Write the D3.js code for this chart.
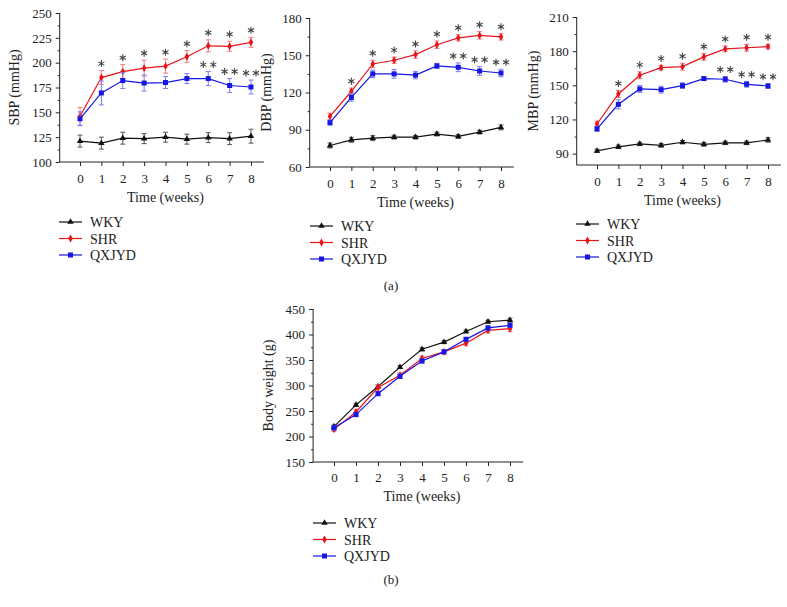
<!DOCTYPE html>
<html>
<head>
<meta charset="utf-8">
<script src="https://cdn.jsdelivr.net/npm/d3@7"></script>
<style>
  body { margin: 0; background: #fff; }
  svg { display: block; }
  text { font-family: "Liberation Serif", "DejaVu Serif", serif; fill: #222; }
</style>
</head>
<body>
<svg id="chart" width="787" height="607"></svg>
<script>
'use strict';

// weeks on the x axis
const weeks = [0, 1, 2, 3, 4, 5, 6, 7, 8];
const groups = ['WKY', 'SHR', 'QXJYD'];

// SBP (mmHg)
const sbpWKY = [121, 119, 124, 123.5, 125, 123, 124.5, 123.5, 126];
const sbpWKYErr = [6, 6, 6, 5, 5, 5, 5, 6, 7];
const sbpSHR = [146, 185, 191, 194.5, 196.5, 206, 217, 216.5, 220.5];
const sbpSHRErr = [9, 7, 7, 8, 7, 6, 6, 5, 5];
const sbpQX = [143.5, 169.5, 182, 179.5, 180, 184, 184, 177, 175.5];
const sbpQXErr = [7, 12, 8, 8, 6, 5, 7, 7, 7];

// DBP (mmHg)
const dbpWKY = [77.3, 81.9, 83.2, 84, 84, 86.5, 84.6, 88.1, 91.9];
const dbpWKYErr = [2, 2, 2, 1.5, 1.5, 1.5, 1.5, 1.5, 2];
const dbpSHR = [100.8, 121, 143, 146, 150.5, 158.5, 164, 166, 164.8];
const dbpSHRErr = [2.5, 2.5, 3, 2.5, 3, 3, 2.5, 3, 2.5];
const dbpQX = [95.7, 116, 135, 135, 134, 141.4, 140.3, 137.3, 135.7];
const dbpQXErr = [2, 3, 3, 3.5, 3, 2, 3.5, 3.5, 3];

// MBP (mmHg)
const mbpWKY = [92.4, 96, 98.5, 97.3, 100, 98.2, 99.4, 99.4, 102];
const mbpWKYErr = [1.5, 1.5, 1.5, 1.5, 1.5, 1.5, 1.5, 1.5, 2];
const mbpSHR = [116, 142.4, 158.8, 165.5, 166.4, 175, 182, 183, 184];
const mbpSHRErr = [2.5, 3, 3, 2, 3, 3, 2.5, 3, 2];
const mbpQX = [111.7, 133.3, 146.8, 146.2, 149.7, 155.9, 155.3, 150.9, 149.4];
const mbpQXErr = [2, 4, 3, 3, 2.5, 1.5, 2.5, 2.5, 2];

// Body weight (g)
const bwWKY = [219.5, 262, 298, 336, 371, 385, 406, 425, 428];
const bwWKYErr = [3, 3, 3, 3, 3, 3, 3, 3, 4];
const bwSHR = [214, 248, 296, 320, 353, 366, 383, 408, 411.5];
const bwSHRErr = [4, 5, 5, 5, 5, 4, 5, 5, 6];
const bwQX = [217, 243, 284, 318, 348, 366, 390.5, 413, 418];
const bwQXErr = [4, 4, 4, 4, 4, 4, 4, 4, 4];

// significance marks (number of asterisks)
const sbpStarSHR = [0, 1, 1, 1, 1, 1, 1, 1, 1];
const sbpStarQX = [0, 0, 0, 0, 0, 0, 2, 2, 2];
const dbpStarSHR = [0, 1, 1, 1, 1, 1, 1, 1, 1];
const dbpStarQX = [0, 0, 0, 0, 0, 0, 2, 2, 2];
const mbpStarSHR = [0, 1, 1, 1, 1, 1, 1, 1, 1];
const mbpStarQX = [0, 0, 0, 0, 0, 0, 2, 2, 2];

const colors = { WKY: '#111', SHR: '#e8141b', QXJYD: '#1616e6' };
const errColors = { WKY: '#555', SHR: '#f07a7e', QXJYD: '#7c7cf0' };

const svg = d3.select('#chart');
const star = d3.symbol(d3.symbolAsterisk, 34);

function drawPanel(o) {
  const x = d3.scaleLinear().domain([0, 8]).range(o.xr);
  const y = d3.scaleLinear().domain(o.yd).range(o.yr);
  const g = svg.append('g');

  // axes
  const xa = g.append('g').attr('transform', `translate(0,${o.yr[0]})`)
    .call(d3.axisBottom(x).tickValues(weeks).tickSize(4).tickPadding(o.xPad).tickFormat(d3.format('d')));
  xa.select('.domain').attr('d', `M${x(-0.95)},0H${x(8.6)}`);
  const ya = g.append('g').attr('transform', `translate(${x(-0.95)},0)`)
    .call(d3.axisLeft(y).tickValues(o.ticks).tickSize(4).tickPadding(4));
  ya.select('.domain').attr('d', `M0,${o.yr[0]}V${o.yr[1]}`);
  g.append('g').attr('transform', `translate(${x(-0.95)},0)`)
    .call(d3.axisLeft(y).tickValues(o.minor).tickSize(2).tickFormat(''))
    .select('.domain').remove();
  g.selectAll('.tick text').attr('font-size', 13).attr('fill', '#222')
    .attr('font-family', '"Liberation Serif", serif');
  g.selectAll('.domain, .tick line').attr('stroke', '#222').attr('stroke-width', 1);

  g.append('text').attr('x', (o.xr[0] + o.xr[1]) / 2).attr('y', o.yr[0] + o.xLab)
    .attr('text-anchor', 'middle').attr('font-size', 14).text('Time (weeks)');
  g.append('text').attr('transform', `translate(${o.labelX},${(o.yr[0] + o.yr[1]) / 2}) rotate(-90)`)
    .attr('text-anchor', 'middle').attr('font-size', 14).text(o.ylabel);

  const line = d3.line().x((d, i) => x(weeks[i])).y(d => y(d));

  o.series.forEach(s => {
    const c = colors[s.name];
    // error bars
    s.values.forEach((v, i) => {
      const e = s.err[i];
      const cx = x(weeks[i]);
      g.append('path')
        .attr('d', `M${cx},${y(v - e)}V${y(v + e)}M${cx - 2.5},${y(v - e)}H${cx + 2.5}M${cx - 2.5},${y(v + e)}H${cx + 2.5}`)
        .attr('stroke', errColors[s.name]).attr('stroke-width', 1).attr('fill', 'none');
    });
    g.append('path').datum(s.values).attr('d', line)
      .attr('fill', 'none').attr('stroke', c).attr('stroke-width', 1.2);
    s.values.forEach((v, i) => marker(g, s.name, x(weeks[i]), y(v)));
    if (s.stars) {
      s.values.forEach((v, i) => {
        const n = s.stars[i];
        const cy = y(v + s.err[i]) - 7;
        for (let k = 0; k < n; k++) {
          const cx = x(weeks[i]) + (n > 1 ? (k - 0.5) * 10 : 0);
          g.append('path').attr('d', star)
            .attr('transform', `translate(${cx},${cy})`)
            .attr('fill', 'none').attr('stroke', '#444').attr('stroke-width', 1.1);
        }
      });
    }
  });

  // legend
  groups.forEach((name, i) => {
    const ly = o.legend[1] + i * 16.5;
    g.append('line').attr('x1', o.legend[0]).attr('x2', o.legend[0] + 23)
      .attr('y1', ly).attr('y2', ly).attr('stroke', colors[name]).attr('stroke-width', 1.2);
    marker(g, name, o.legend[0] + 11.5, ly);
    g.append('text').attr('x', o.legend[0] + 31).attr('y', ly + 5)
      .attr('font-size', 14).text(name);
  });
}

function marker(g, name, cx, cy) {
  const c = colors[name];
  if (name === 'WKY') {
    g.append('path').attr('d', d3.symbol(d3.symbolTriangle, 18)())
      .attr('transform', `translate(${cx},${cy})`).attr('fill', c);
  } else if (name === 'SHR') {
    g.append('path').attr('d', d3.symbol(d3.symbolDiamond, 18)())
      .attr('transform', `translate(${cx},${cy})`).attr('fill', c);
  } else {
    g.append('rect').attr('x', cx - 2.5).attr('y', cy - 2.5).attr('width', 5).attr('height', 5).attr('fill', c);
  }
}

drawPanel({
  xr: [80, 251], yd: [100, 250], yr: [162, 13], xPad: 8, xLab: 40,
  ticks: d3.range(100, 251, 25), minor: d3.range(112.5, 250, 25),
  ylabel: 'SBP (mmHg)', labelX: 19, legend: [59, 222],
  series: [
    { name: 'WKY', values: sbpWKY, err: sbpWKYErr },
    { name: 'SHR', values: sbpSHR, err: sbpSHRErr, stars: sbpStarSHR },
    { name: 'QXJYD', values: sbpQX, err: sbpQXErr, stars: sbpStarQX }
  ]
});

drawPanel({
  xr: [330, 501], yd: [60, 180], yr: [167, 18], xPad: 8, xLab: 40,
  ticks: d3.range(60, 181, 30), minor: d3.range(75, 180, 30),
  ylabel: 'DBP (mmHg)', labelX: 271, legend: [310, 226],
  series: [
    { name: 'WKY', values: dbpWKY, err: dbpWKYErr },
    { name: 'SHR', values: dbpSHR, err: dbpSHRErr, stars: dbpStarSHR },
    { name: 'QXJYD', values: dbpQX, err: dbpQXErr, stars: dbpStarQX }
  ]
});

drawPanel({
  xr: [597, 768], yd: [80, 210], yr: [165, 17], xPad: 8, xLab: 40,
  ticks: d3.range(90, 211, 30), minor: d3.range(105, 210, 30),
  ylabel: 'MBP (mmHg)', labelX: 538, legend: [576, 224],
  series: [
    { name: 'WKY', values: mbpWKY, err: mbpWKYErr },
    { name: 'SHR', values: mbpSHR, err: mbpSHRErr, stars: mbpStarSHR },
    { name: 'QXJYD', values: mbpQX, err: mbpQXErr, stars: mbpStarQX }
  ]
});

drawPanel({
  xr: [334, 510], yd: [150, 450], yr: [462, 309], xPad: 7, xLab: 39,
  ticks: d3.range(150, 451, 50), minor: d3.range(175, 450, 50),
  ylabel: 'Body weight (g)', labelX: 273, legend: [313, 523],
  series: [
    { name: 'WKY', values: bwWKY, err: bwWKYErr },
    { name: 'SHR', values: bwSHR, err: bwSHRErr },
    { name: 'QXJYD', values: bwQX, err: bwQXErr }
  ]
});

svg.append('text').attr('x', 391).attr('y', 290).attr('text-anchor', 'middle')
  .attr('font-size', 13).text('(a)');
svg.append('text').attr('x', 391).attr('y', 584).attr('text-anchor', 'middle')
  .attr('font-size', 13).text('(b)');
</script>
</body>
</html>
